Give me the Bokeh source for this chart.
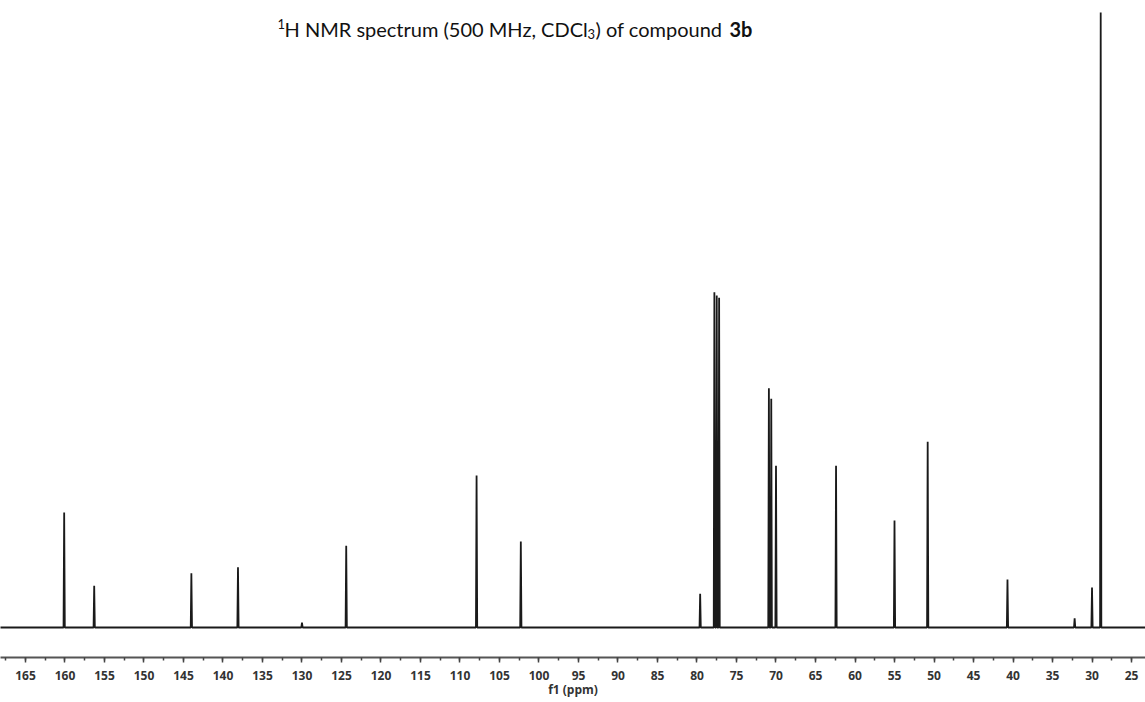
from bokeh.plotting import figure
from bokeh.models import Range1d, SingleIntervalTicker, Label
from bokeh.embed import file_html
from bokeh.resources import INLINE

# ---- data ----
peak_ppm = [160.1, 156.3, 144.0, 138.1, 130.0, 124.4, 107.9, 102.3, 79.6,
            77.8, 77.5, 77.2, 70.9, 70.6, 70.0, 62.4, 55.0, 50.8, 40.7,
            32.2, 30.0, 28.9]
peak_int = [18.7, 6.8, 8.8, 9.8, 0.8, 13.3, 24.7, 14.0, 5.5,
            54.5, 54.0, 53.6, 38.9, 37.2, 26.3, 26.3, 17.4, 30.2, 7.8,
            1.5, 6.5, 100.0]
tick_interval = 5
x_label = "f1 (ppm)"

# ---- build spectrum trace from the peak list ----
half_w = 0.08
pts = [(168.5, 0.0), (23.0, 0.0)]
for p, h in zip(peak_ppm, peak_int):
    pts += [(p + half_w, 0.0), (p, h), (p - half_w, 0.0)]
pts.sort(key=lambda t: -t[0])
xs = [a for a, _ in pts]
ys = [b for _, b in pts]

W, H = 1145, 702
frame_h = 657
x0, x1 = 168.16, 23.23
y0, y1 = -4.88, 101.95

p = figure(width=W, height=H, output_backend="svg", toolbar_location=None,
           x_range=Range1d(x0, x1), y_range=Range1d(y0, y1),
           min_border_left=0, min_border_right=0, min_border_top=0,
           min_border_bottom=H - frame_h)
p.yaxis.visible = False
p.grid.visible = False
p.outline_line_color = None
p.background_fill_color = "white"
p.border_fill_color = "white"

p.line(xs, ys, line_color="#1a1a1a", line_width=1.8)

ax = p.xaxis[0]
ax.ticker = SingleIntervalTicker(interval=tick_interval, num_minor_ticks=2)
ax.axis_line_color = "#555555"
ax.axis_line_width = 2
ax.major_tick_line_color = "#444444"
ax.major_tick_line_width = 1.5
ax.major_tick_in = 0
ax.major_tick_out = 5
ax.minor_tick_line_color = "#444444"
ax.minor_tick_line_width = 1.5
ax.minor_tick_in = 0
ax.minor_tick_out = 3
ax.major_label_text_font = "Open Sans"
ax.major_label_text_font_size = "12px"
ax.major_label_text_font_style = "bold"
ax.major_label_text_color = "#333333"
ax.major_label_standoff = 8
ax.axis_label = x_label
ax.axis_label_text_font = "Open Sans"
ax.axis_label_text_font_size = "12px"
ax.axis_label_text_font_style = "bold"
ax.axis_label_text_color = "#333333"
ax.axis_label_standoff = -2

# ---- title pieces (rich text) ----
ppx = (x0 - x1) / W
ppy = (y1 - y0) / frame_h

def dx(px):
    return x0 - px * ppx

def dy(py):
    return y1 - py * ppy

def add(text, px, py, size, style="normal"):
    p.add_layout(Label(x=dx(px), y=dy(py), text=text, text_font="Lato",
                       text_font_size=size, text_font_style=style,
                       text_color="#111111", text_align="left",
                       text_baseline="alphabetic"))

add("1", 277, 23, "13px")
add("H NMR spectrum (500 MHz, CDCl", 284, 28, "20px")
add("3", 587, 33, "13px")
add(") of compound", 595, 28, "20px")
add("3b", 729, 28, "20px", "bold")

open("out.html", "w").write(file_html(p, INLINE))
